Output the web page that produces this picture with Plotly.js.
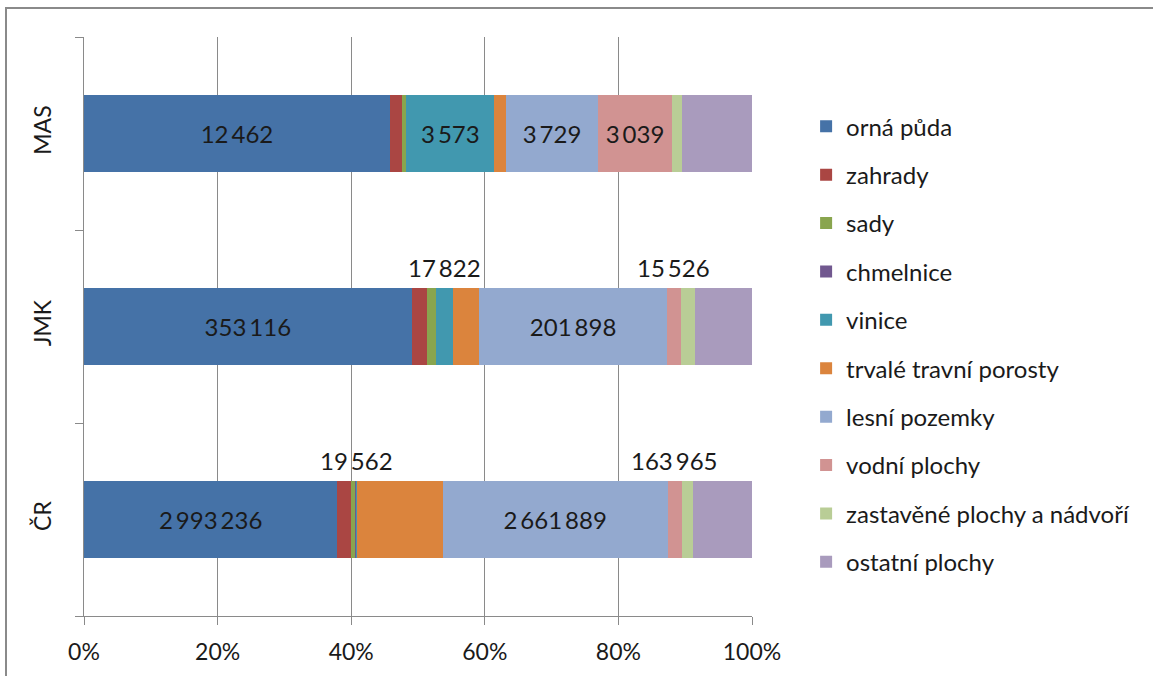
<!DOCTYPE html>
<html>
<head>
<meta charset="utf-8">
<script src="https://cdn.plot.ly/plotly-3.0.1.min.js"></script>
<style>
html,body{margin:0;padding:0;background:#fff;}
#wrap{position:relative;width:1153px;height:676px;overflow:hidden;}
#chart{position:absolute;left:0;top:0;width:1153px;height:676px;}
#frame{position:absolute;left:5px;top:7px;width:1150px;height:700px;border-left:2px solid #8a8a8a;border-top:2px solid #8a8a8a;border-right:2px solid #c8c8c8;pointer-events:none;}
</style>
</head>
<body>
<div id="wrap"><div id="chart"></div><div id="frame"></div></div>
<script>
// categories (bottom to top)
const categories = ['ČR', 'JMK', 'MAS'];
const seriesNames = ['orná půda','zahrady','sady','chmelnice','vinice','trvalé travní porosty','lesní pozemky','vodní plochy','zastavěné plochy a nádvoří','ostatní plochy'];
const colors = ['#4572A7','#AA4643','#89A54E','#71588F','#4198AF','#DB843D','#93A9CF','#D19392','#B9CD96','#A99BBD'];

// values in ha, per category [ČR, JMK, MAS]
const ornaPuda     = [2993236, 353116, 12462];
const zahrady      = [163000, 16300, 510];
const sady         = [46000, 10000, 164];
const chmelnice    = [10300, 150, 0];
const vinice       = [19562, 17822, 3573];
const trvaleTP     = [1005000, 28800, 491];
const lesniPozemky = [2661889, 201898, 3729];
const vodniPlochy  = [163965, 15526, 3039];
const zastavene    = [130000, 15400, 382];
const ostatni      = [702000, 61000, 2863];
const seriesValues = [ornaPuda, zahrady, sady, chmelnice, vinice, trvaleTP, lesniPozemky, vodniPlochy, zastavene, ostatni];

// which labels are shown inside bars / above bars: [seriesIndex, categoryIndex]
const insideLabels = [[0,0],[0,1],[0,2],[4,2],[6,0],[6,1],[6,2],[7,2]];
const aboveLabels  = [[4,0],[7,0],[4,1],[7,1]];

function fmt(v){ return String(v).replace(/\B(?=(\d{3})+(?!\d))/g, '\u2009'); }

const FONT = 'Lato, "Open Sans", sans-serif';

const traces = seriesNames.map((name, si) => {
  const vals = seriesValues[si];
  const text = vals.map((v, ci) => insideLabels.some(l => l[0]===si && l[1]===ci) ? fmt(v) : '');
  return {
    type: 'bar', orientation: 'h', name: name,
    y: categories, x: vals,
    marker: {color: colors[si], line: {width: 0}},
    text: text, textposition: 'inside', insidetextanchor: 'middle', textangle: 0,
    constraintext: 'none',
    insidetextfont: {family: FONT, size: 24, color: '#1a1a1a'},
    legendgroup: 'g' + si,
    hoverinfo: 'none'
  };
});

// annotations above bars, positioned via data (percent of category total)
const annotations = aboveLabels.map(([si, ci]) => {
  let total = 0, before = 0;
  seriesValues.forEach((arr, k) => { total += arr[ci]; if (k < si) before += arr[ci]; });
  const center = (before + seriesValues[si][ci] / 2) / total * 100;
  return {
    x: center, y: categories[ci], xref: 'x', yref: 'y',
    text: fmt(seriesValues[si][ci]), showarrow: false, yshift: 59,
    font: {family: FONT, size: 24, color: '#1a1a1a'}
  };
});

const layout = {
  width: 1153, height: 676,
  margin: {l: 84, r: 401, t: 37, b: 60},
  paper_bgcolor: '#ffffff', plot_bgcolor: '#ffffff',
  barmode: 'stack', barnorm: 'percent', bargap: 0.605,
  font: {family: FONT, size: 23, color: '#1a1a1a'},
  xaxis: {
    range: [0, 100], tickvals: [0,20,40,60,80,100], ticktext: ['0%','20%','40%','60%','80%','100%'],
    showgrid: true, gridcolor: '#8a8a8a', gridwidth: 1,
    showline: true, linecolor: '#8a8a8a', linewidth: 1,
    ticks: 'outside', ticklen: 8, tickcolor: '#8a8a8a',
    ticklabelstandoff: 7, zeroline: false, fixedrange: true,
    tickfont: {size: 23, color: '#1a1a1a'}
  },
  yaxis: {
    type: 'category', categoryorder: 'array', categoryarray: categories,
    showline: true, linecolor: '#8a8a8a', linewidth: 1,
    ticks: 'outside', ticklen: 8, tickcolor: '#8a8a8a', tickson: 'boundaries',
    tickangle: -90, ticklabelstandoff: 23, showgrid: false, fixedrange: true,
    tickfont: {size: 23, color: '#1a1a1a'}
  },
  legend: {
    x: 1.081, xanchor: 'left', y: 0.884, yanchor: 'top',
    traceorder: 'grouped', tracegroupgap: 14.2,
    font: {size: 24, color: '#1a1a1a'},
    itemclick: false, itemdoubleclick: false
  },
  annotations: annotations,
  showlegend: true
};

Plotly.newPlot('chart', traces, layout, {displayModeBar: false, staticPlot: true});
</script>
</body>
</html>
